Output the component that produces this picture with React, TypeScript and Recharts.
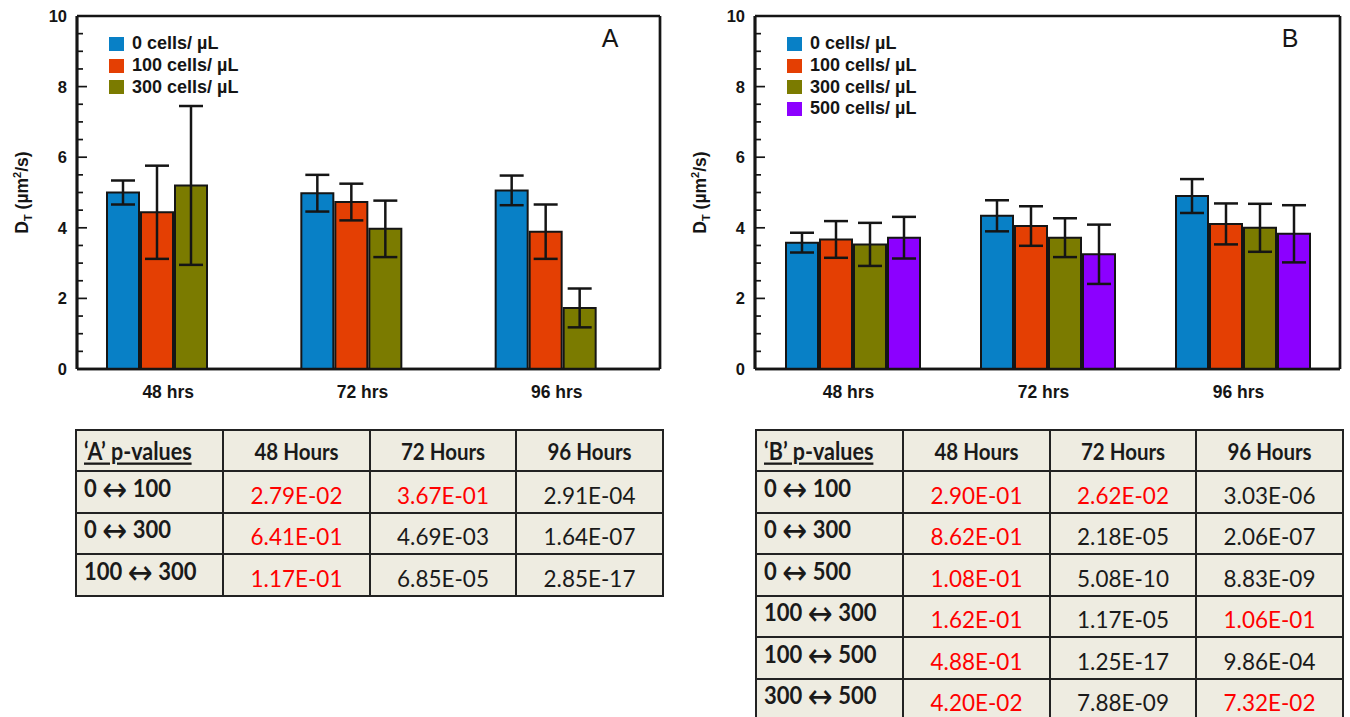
import React from 'react';
import { BarChart, Bar, XAxis, YAxis, ErrorBar, CartesianGrid } from 'recharts';

// ---------- data ----------
const categories = ['48 hrs', '72 hrs', '96 hrs'];
const yTicks = [0, 0.5, 1, 1.5, 2, 2.5, 3, 3.5, 4, 4.5, 5, 5.5, 6, 6.5, 7, 7.5, 8, 8.5, 9, 9.5, 10];
const yMajorTicks = [0, 2, 4, 6, 8, 10];

const namesA = ['0 cells/ µL', '100 cells/ µL', '300 cells/ µL'];
const namesB = ['0 cells/ µL', '100 cells/ µL', '300 cells/ µL', '500 cells/ µL'];
const colors = ['#0880C6', '#E43F03', '#7B7B00', '#8C00FF'];

// Panel A
const a0 = [5.0, 4.98, 5.06];
const a0Err = [0.34, 0.52, 0.42];
const a100 = [4.44, 4.73, 3.89];
const a100Err = [1.32, 0.52, 0.77];
const a300 = [5.2, 3.97, 1.73];
const a300Err = [2.25, 0.8, 0.55];

// Panel B
const b0 = [3.58, 4.34, 4.9];
const b0Err = [0.28, 0.44, 0.48];
const b100 = [3.67, 4.05, 4.11];
const b100Err = [0.52, 0.56, 0.58];
const b300 = [3.53, 3.72, 4.0];
const b300Err = [0.61, 0.55, 0.68];
const b500 = [3.72, 3.25, 3.83];
const b500Err = [0.59, 0.84, 0.81];

// Tables
const tableHours = ['48 Hours', '72 Hours', '96 Hours'];
const pairsA = [['0', '100'], ['0', '300'], ['100', '300']];
const pA48 = ['2.79E-02', '6.41E-01', '1.17E-01'];
const pA72 = ['3.67E-01', '4.69E-03', '6.85E-05'];
const pA96 = ['2.91E-04', '1.64E-07', '2.85E-17'];
const pairsB = [['0', '100'], ['0', '300'], ['0', '500'], ['100', '300'], ['100', '500'], ['300', '500']];
const pB48 = ['2.90E-01', '8.62E-01', '1.08E-01', '1.62E-01', '4.88E-01', '4.20E-02'];
const pB72 = ['2.62E-02', '2.18E-05', '5.08E-10', '1.17E-05', '1.25E-17', '7.88E-09'];
const pB96 = ['3.03E-06', '2.06E-07', '8.83E-09', '1.06E-01', '9.86E-04', '7.32E-02'];

const dataA = categories.map((c, i) => ({
  cat: c,
  v0: a0[i], e0: a0Err[i],
  v1: a100[i], e1: a100Err[i],
  v2: a300[i], e2: a300Err[i],
}));
const dataB = categories.map((c, i) => ({
  cat: c,
  v0: b0[i], e0: b0Err[i],
  v1: b100[i], e1: b100Err[i],
  v2: b300[i], e2: b300Err[i],
  v3: b500[i], e3: b500Err[i],
}));

// ---------- style ----------
const FONT = '"Liberation Sans", Arial, Helvetica, sans-serif';
const TFONT = 'Lato, "Open Sans", sans-serif';
const INK = '#151515';

const YTick = (props: any) => {
  const { x, y, payload } = props;
  const v = payload.value;
  const major = yMajorTicks.includes(v);
  const ax = x + 10;
  return (
    <g>
      <line x1={ax} x2={ax + (major ? 10 : 6)} y1={y} y2={y} stroke={INK} strokeWidth={1.7} />
      {major && (
        <text x={x} y={y} dy={6} textAnchor="end" fontFamily={FONT} fontWeight="bold" fontSize={16.5} fill={INK}>
          {v}
        </text>
      )}
    </g>
  );
};

const makeXTick = (dx: number) => (props: any) => {
  const { x, y, payload } = props;
  return (
    <text x={x + dx} y={y} dy={13} textAnchor="middle" fontFamily={FONT} fontWeight="bold" fontSize={17.5} fill={INK}>
      {payload.value}
    </text>
  );
};

const YLabel = (props: any) => {
  const vb = props.viewBox || { x: 0, y: 0, width: 0, height: 0 };
  const cx = vb.x + vb.width - 55;
  const cy = vb.y + vb.height / 2;
  return (
    <text
      transform={`rotate(-90 ${cx} ${cy})`}
      x={cx}
      y={cy + 6}
      textAnchor="middle"
      fontFamily={FONT}
      fontWeight="bold"
      fontSize={17.5}
      fill={INK}
    >
      <tspan>D</tspan>
      <tspan fontSize={11} dy={4}>T</tspan>
      <tspan dy={-4}> (µm</tspan>
      <tspan fontSize={11} dy={-7}>2</tspan>
      <tspan dy={7}>/s)</tspan>
    </text>
  );
};

const frameH = ({ offset }: any) => [offset.top, offset.top + offset.height];
const frameV = ({ offset }: any) => [offset.left, offset.left + offset.width];

type PanelProps = {
  data: any[];
  names: string[];
  letter: string;
  left: number;
  width: number;
  marginLeft: number;
  marginRight: number;
  xPad: { left: number; right: number };
  tickDx: number;
  legendLeft: number;
};

const Panel = ({ data, names, letter, left, width, marginLeft, marginRight, xPad, tickDx, legendLeft }: PanelProps) => (
  <div style={{ position: 'absolute', left, top: 0, width, height: 410 }}>
    <BarChart
      width={width}
      height={410}
      data={data}
      margin={{ top: 16, right: marginRight, bottom: 11, left: marginLeft }}
      barSize={32}
      barGap={2}
    >
      <CartesianGrid
        stroke={INK}
        strokeWidth={2.7}
        horizontalCoordinatesGenerator={frameH}
        verticalCoordinatesGenerator={frameV}
      />
      <XAxis
        dataKey="cat"
        type="category"
        padding={xPad}
        height={30}
        tickSize={0}
        tickMargin={16}
        tickLine={false}
        axisLine={{ stroke: INK, strokeWidth: 2.7 }}
        tick={makeXTick(tickDx)}
        interval={0}
      />
      <YAxis
        type="number"
        domain={[0, 10]}
        ticks={yTicks}
        interval={0}
        width={60}
        tickSize={0}
        tickMargin={10}
        tickLine={false}
        axisLine={{ stroke: INK, strokeWidth: 2.7 }}
        tick={YTick}
        label={{ content: YLabel }}
      />
      {names.map((n, i) => (
        <Bar
          key={n}
          name={n}
          dataKey={`v${i}`}
          fill={colors[i]}
          stroke={INK}
          strokeWidth={2}
          isAnimationActive={false}
        >
          <ErrorBar dataKey={`e${i}`} width={12} stroke={INK} strokeWidth={2.5} direction="y" />
        </Bar>
      ))}
    </BarChart>
    <div style={{ position: 'absolute', left: legendLeft, top: 33, fontFamily: FONT }}>
      {names.map((n, i) => (
        <div key={n} style={{ display: 'flex', alignItems: 'center', height: 21.7 }}>
          <div style={{ width: 15, height: 14, background: colors[i], marginRight: 8 }} />
          <span style={{ fontWeight: 'bold', fontSize: 18, color: INK, whiteSpace: 'nowrap' }}>{n}</span>
        </div>
      ))}
    </div>
    <div
      style={{
        position: 'absolute',
        left: 610,
        top: 38,
        transform: 'translate(-50%, -50%)',
        fontFamily: FONT,
        fontSize: 25,
        color: INK,
        lineHeight: 1,
      }}
    >
      {letter}
    </div>
  </div>
);

const pColor = (v: string) => (parseFloat(v) > 0.01 ? '#FF0000' : '#1a1a1a');

type TableProps = {
  left: number;
  label: string;
  pairs: string[][];
  p48: string[];
  p72: string[];
  p96: string[];
  rowH: number;
};

const cellBorder = `2px solid #222`;
const tall: React.CSSProperties = { display: 'inline-block', transform: 'scaleY(1.15)' };

const PTable = ({ left, label, pairs, p48, p72, p96, rowH }: TableProps) => {
  const colW = [147, 147, 146, 147];
  const cellBase: React.CSSProperties = {
    border: cellBorder,
    padding: 0,
    boxSizing: 'border-box',
    fontFamily: TFONT,
    color: '#1a1a1a',
  };
  return (
    <table
      style={{
        position: 'absolute',
        left,
        top: 429,
        borderCollapse: 'collapse',
        tableLayout: 'fixed',
        width: colW.reduce((a, b) => a + b, 0),
        background: '#EEECE1',
      }}
    >
      <colgroup>
        {colW.map((w, i) => (
          <col key={i} style={{ width: w }} />
        ))}
      </colgroup>
      <tbody>
        <tr style={{ height: 41 }}>
          <td style={{ ...cellBase, paddingLeft: 7, fontWeight: 'bold', fontSize: 21.5, whiteSpace: 'nowrap' }}>
            <span style={{ ...tall, textDecoration: 'underline' }}>{label}</span>
          </td>
          {tableHours.map((h) => (
            <td key={h} style={{ ...cellBase, textAlign: 'center', fontWeight: 'bold', fontSize: 20.5 }}>
              <span style={tall}>{h}</span>
            </td>
          ))}
        </tr>
        {pairs.map((pr, r) => (
          <tr key={pr.join('-')} style={{ height: rowH }}>
            <td style={{ ...cellBase, paddingLeft: 7, paddingBottom: 6, fontWeight: 'bold', fontSize: 22, whiteSpace: 'nowrap' }}>
              <span style={tall}>
                {pr[0]}{' '}
                <span style={{ fontFamily: '"DejaVu Sans", sans-serif', fontSize: 30, fontWeight: 'normal', lineHeight: 1, verticalAlign: -3 }}>↔</span>
                {' '}{pr[1]}
              </span>
            </td>
            {[p48[r], p72[r], p96[r]].map((v, c) => (
              <td
                key={c}
                style={{
                  ...cellBase,
                  textAlign: 'center',
                  verticalAlign: 'bottom',
                  paddingBottom: 3,
                  fontSize: 22.5,
                  color: pColor(v),
                }}
              >
                <span style={{ display: 'inline-block', transform: 'scaleY(1.05)' }}>{v}</span>
              </td>
            ))}
          </tr>
        ))}
      </tbody>
    </table>
  );
};

export default function App() {
  return (
    <div
      style={{
        position: 'absolute',
        left: 0,
        top: 0,
        width: 1350,
        height: 717,
        overflow: 'hidden',
        background: '#fff',
      }}
    >
      <Panel
        data={dataA}
        names={namesA}
        letter="A"
        left={0}
        width={680}
        marginLeft={17}
        marginRight={20}
        xPad={{ left: -17, right: 17 }}
        tickDx={11}
        legendLeft={109}
      />
      <Panel
        data={dataB}
        names={namesB}
        letter="B"
        left={680}
        width={670}
        marginLeft={15}
        marginRight={10}
        xPad={{ left: 0, right: 0 }}
        tickDx={-4}
        legendLeft={107}
      />
      <PTable left={75} label="‘A’ p-values" pairs={pairsA} p48={pA48} p72={pA72} p96={pA96} rowH={41.5} />
      <PTable left={755} label="‘B’ p-values" pairs={pairsB} p48={pB48} p72={pB72} p96={pB96} rowH={41.5} />
    </div>
  );
}
